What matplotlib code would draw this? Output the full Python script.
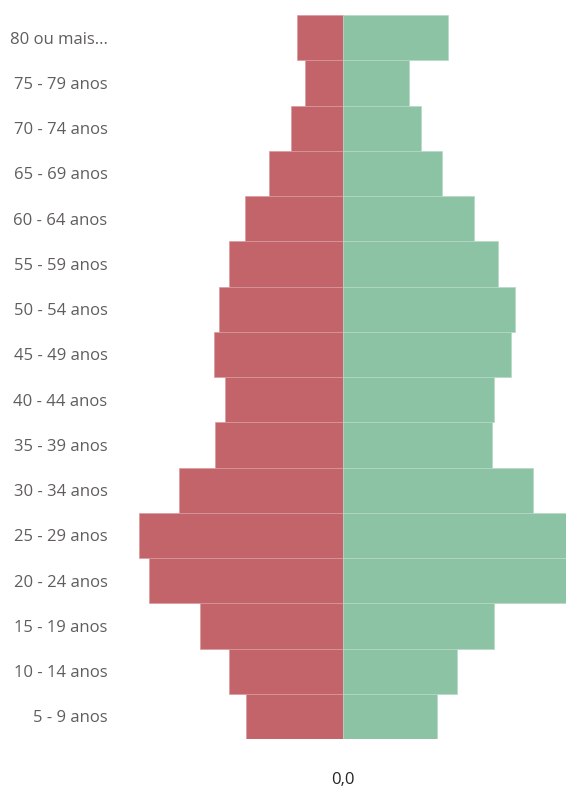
import matplotlib
matplotlib.use("Agg")
import matplotlib.pyplot as plt

categories = ["5 - 9 anos", "10 - 14 anos", "15 - 19 anos", "20 - 24 anos", "25 - 29 anos",
              "30 - 34 anos", "35 - 39 anos", "40 - 44 anos", "45 - 49 anos", "50 - 54 anos",
              "55 - 59 anos", "60 - 64 anos", "65 - 69 anos", "70 - 74 anos", "75 - 79 anos",
              "80 ou mais..."]
female = [97, 114, 143, 194, 204, 164, 128, 118, 129, 124, 114, 98, 74, 52, 38, 46]
male = [94, 114, 151, 230, 230, 190, 149, 151, 168, 172, 155, 131, 99, 78, 66, 105]
tick_labels = ["0,0"]

plt.rcParams['font.family'] = ['Open Sans', 'DejaVu Sans']
fig = plt.figure(figsize=(5.66, 7.88), dpi=100)
ax = fig.add_axes([113/566, 1-739/788, 453/566, 724/788])

y = list(range(len(categories)))
ax.barh(y, [-v for v in female], height=1.0, color="#C3646A", edgecolor="#D99A9E", linewidth=0.5)
ax.barh(y, male, height=1.0, color="#8CC3A5", edgecolor="#B5D9C5", linewidth=0.5)

ax.set_xlim(-230, 223)
ax.set_ylim(-0.5, len(categories) - 0.5)
ax.set_yticks(y)
ax.set_yticklabels(categories, fontsize=12, color="#605E5C")
ax.set_xticks([0])
ax.set_xticklabels(tick_labels, fontsize=12, color="#252423")
ax.tick_params(axis='y', length=0, pad=4)
ax.tick_params(axis='x', length=0, pad=24)
for s in ax.spines.values():
    s.set_visible(False)

fig.savefig("out.png", dpi=100)
